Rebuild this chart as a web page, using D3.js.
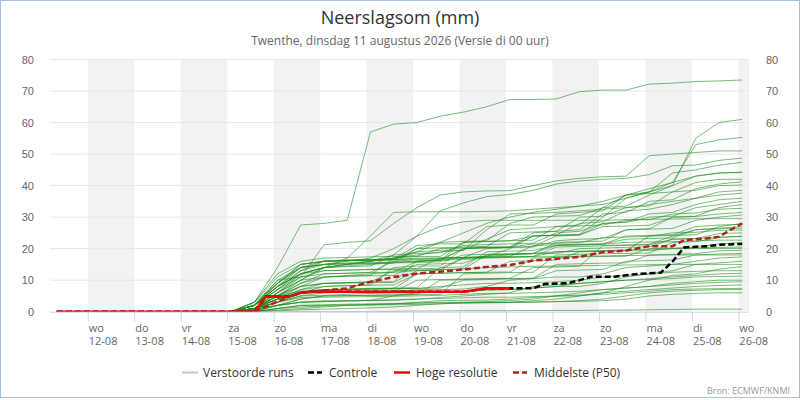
<!DOCTYPE html>
<html>
<head>
<meta charset="utf-8">
<script src="https://cdn.jsdelivr.net/npm/d3@7/dist/d3.min.js"></script>
<style>
  body { margin: 0; background: #fff; }
  svg { display: block; font-family: 'Open Sans', sans-serif; }
</style>
</head>
<body>
<svg id="chart" width="800" height="400"></svg>
<script>
// hours since 11-08 00:00
const runHours = [8, 98, 110, 122, 134, 146, 158, 170, 182, 194, 206, 218, 230, 242, 254, 266, 278, 290, 302, 314, 326, 338, 350, 362];

const perturbedRuns = [
  [0,0,3,14,27.5,28,29,57,59.5,60,62,63.3,65,67.3,67.3,67.5,69.8,70.3,70.3,72.2,72.5,73,73.2,73.5],
  [0,0,2,8,12,14,15,15.2,15.5,20,22,22.3,22.5,28,30,30.3,30.5,33,37,38,40,55,60,61],
  [0,0,2,10,11,21.2,22,22.5,28,33,37,38,38.3,38.4,40,41.5,42.3,42.8,43,49.5,50,50.5,51,51],
  [0,0,3,9,14,15,15.5,16,18,24,32,34.5,36.5,37.2,38.5,40.5,41.5,42,42.3,43.5,46.3,46.5,48,48.7],
  [0,0,1,6,12,14,15,16,17,19,22,25,28,30,31.5,32.5,33.5,35,37,39,41,53,54.5,55.3],
  [0,0,2,9,15,16,16.2,16.5,16.5,17,17,17.2,17.5,20,24,24.3,24.5,30,36,38,44,45,46.5,47.4],
  [0,0,2,7,13,16,16.2,16.5,16.5,19,19.5,19.5,23,26,26.5,27,27.5,33,33.5,37,40,43,44,44.3],
  [0,0,1,5,10,14,17,24,31.5,31.7,31.7,31.7,31.8,32,32.5,33,33.5,34,36,38,41,43,44,44.1],
  [0,0,2,8,14,16,16.5,16.5,16.8,21,21.5,21.5,27,27.5,27.5,31,31.5,32,37,37.5,38,41,42,42],
  [0,0,1,5,9,12,12.2,12.5,16,16.5,16.5,20,20.5,20.5,25,25.5,26,31,31.5,35,35.5,39,40.5,41.2],
  [0,0,3,11,15,16,16.2,16.3,16.5,20,20.3,20.5,20.7,25,25.3,25.5,30,30.3,33,33.5,38,38.5,40,40.2],
  [0,0,2,7,12,14,15,16,17,18,19,19.5,26,31,31.2,31.5,32,32.5,33,34,35,36,38,38.5],
  [0,0,1,4,8,11,11.3,11.5,17,17.5,17.5,22,22.3,22.5,24,24.3,28,28.5,32,32.5,34,36,37,37.6],
  [0,0,2,6,10,14,14.3,14.5,18,18.5,18.7,21,21.3,21.5,21.7,25,25.5,28,28.5,31,31.5,34,35.5,36],
  [0,0,1,3,6,8,8.3,8.5,14,14.5,14.5,20,20.3,20.5,20.7,24,24.3,28,28.3,30,30.3,33,34,35],
  [0,0,2,9,15,16,16.2,16.3,16.5,16.7,17,17.2,20,20.3,20.5,22.5,23,23.2,26,26.3,30,30.3,33,34],
  [0,0,1,5,8,9,9.2,9.5,9.5,16,16.3,22,22.3,22.5,22.7,27,27.2,27.5,29,29.2,31,31.3,32.5,32.8],
  [0,0,3,12,16,17,17.2,17.4,17.5,17.6,20,20.2,20.4,20.5,24,24.2,24.4,27,27.2,27.4,30,30.2,31,31.5],
  [0,0,1,4,7,9,9.2,9.4,13,13.2,13.4,13.5,18,18.2,18.4,22,22.2,22.4,26,26.2,26.4,29,30,30.7],
  [0,0,2,8,13,15,16,17,20,24,27,28.5,29,29,29,29,29,29,29.2,29.3,29.4,29.5,29.5,29.5],
  [0,0,1,4,6,7,7.1,7.2,7.3,12,12.2,12.4,12.5,16,16.2,16.4,19,19.2,19.4,24,24.2,24.4,27,28],
  [0,0,2,10,14,15,15.2,15.4,15.5,15.6,15.8,18,18.2,18.4,18.5,21,21.2,21.4,24,24.2,24.4,27,27.5,27.7],
  [0,0,1,6,11,13,13.2,13.4,13.5,13.6,17,17.2,17.4,17.5,21,21.2,21.4,21.5,23,23.2,23.4,26,26.5,27],
  [0,0,1,3,5,6,6.1,6.2,6.3,10,10.2,10.4,10.5,10.6,14,14.2,14.4,21,21.2,21.4,24,26,26.3,26.5],
  [0,0,2,7,11,12,12.2,12.4,12.5,16,16.2,20,20.2,20.4,21.5,21.7,21.9,23.5,23.7,23.9,25,25.2,25.8,25.9],
  [0,0,1,5,9,11,11.2,11.4,11.5,15,15.2,15.4,18,18.2,18.4,18.5,20,20.2,20.4,20.6,23,23.2,24.8,25],
  [0,0,1,2,4,5,5.1,5.2,5.3,5.4,5.5,12,12.2,12.4,12.5,18,18.2,18.4,18.5,18.6,22,22.2,23.5,24],
  [0,0,2,8,12,13,13.2,13.4,13.5,13.6,13.8,17,17.2,17.4,17.5,20.5,20.7,20.9,21,21.2,23,23.2,23.7,23.8],
  [0,0,1,3,6,7,7.2,7.4,7.5,7.6,14,14.2,19,19.2,19.4,21,21.2,21.4,22,22.1,22.2,22.5,22.7,22.7],
  [0,0,1,4,7,8,8.2,8.4,8.5,12,12.2,12.4,12.5,12.6,17,17.2,17.4,17.5,17.6,20,20.2,20.4,21.5,22],
  [0,0,1,5,8,9,9.1,9.2,9.3,13,13.2,17,17.2,17.4,17.5,19,19.1,19.2,19.3,19.4,20,20.2,20.4,20.5],
  [0,0,2,9,14,15,15.2,15.5,15.8,16,16.5,17,17.5,18,18.5,19,19.2,19.4,19.6,19.8,20,20,20.1,20.1],
  [0,0,0.5,2,4,5,5.1,5.2,5.3,5.4,10,10.2,10.4,10.5,10.6,15,15.2,15.4,15.5,18,18.2,18.4,19.3,19.5],
  [0,0,1,4,6,7,7.1,7.2,7.3,7.4,7.5,10,10.2,10.4,10.5,13,13.2,13.4,16,16.2,16.4,18,18.3,18.5],
  [0,0,2,8,12,14,14.5,15,15.5,16,16.3,16.6,17,17.2,17.4,17.5,17.6,17.7,17.8,17.9,18,18,18,18],
  [0,0,1,4,6,6,6.3,6.5,6.5,7,7,7.2,8,10,10.5,11,11,12,14,14.5,15,16,17,17.4],
  [0,0,0,2,3,3.5,3.5,3.6,5,6,6.2,6.5,7,7,7.5,8,8,9,11,12,13,15,15.5,16],
  [0,0,1,6,10,11,11.5,12,12.5,13,13.3,13.6,14,14.2,14.4,14.5,14.6,14.7,14.8,14.9,15,15,15,15],
  [0,0,0,1,2,2,2.2,2.3,2.4,3,3.5,3.6,3.7,4,4.5,5,5,6,8,10,11.5,12,13.5,14.3],
  [0,0,1,5,6.5,7,7,7.2,7.3,7.4,8,8.5,9,9,9.2,9.5,10,11,11.5,12,12.5,12.8,13,13],
  [0,0,0,2,3,3.2,3.4,3.5,3.6,4,4.5,5,5.5,6,8,8.5,9,9.5,10,10.5,11,11.5,12,12.2],
  [0,0,1,3,5,5.2,5.5,5.8,6,6,6.2,6.5,6.8,7,7.5,8,9,9.5,10,10.2,10.5,11,11.2,11.3],
  [0,0,0,1,1.5,1.8,2,2.2,2.5,2.8,3,3,3.2,3.5,4,5,6,7,7.5,8,9,9.5,10,10],
  [0,0,0.5,3,4.5,4.6,4.7,4.8,4.9,5,5.2,5.5,5.8,5.8,6,6.2,6.5,7,7.5,8,8.5,9,9.3,9.5],
  [0,0,0,1,2,2.2,2.4,2.5,2.6,2.7,2.8,2.9,2.9,3,3.5,4,5,6,6.5,7,7.5,8,8.3,8.5],
  [0,0,0.5,2,3,3.2,3.4,3.6,3.8,4,4.2,4.4,4.6,4.6,4.8,5,5.3,5.5,6,6.5,7,7.2,7.3,7.4],
  [0,0,0,0.5,1,1.5,2,2.1,2.2,2.3,2.5,2.7,2.8,2.9,3,3.2,3.5,4,5,6,6.5,6.8,7,7],
  [0,0,0,0.3,0.6,0.8,1,1.2,1.5,2,2.5,2.8,3,3,3.1,3.2,3.3,3.5,4,5,5.5,5.8,6,6],
  [0,0,0,0,0,0,0,0,0.1,0.2,0.2,0.3,0.3,0.3,0.4,0.4,0.4,0.5,0.5,0.6,0.7,0.8,0.8,0.8]
];

const controlHours = [8, 110, 116, 128, 134, 140, 218, 230, 242, 254, 260, 272, 278, 284, 296, 308, 320, 326, 332, 344, 350, 362];
const controlValues = [0, 0, 4.8, 4.8, 6, 6.3, 6.3, 7.4, 7.4, 7.4, 8.8, 9, 10, 11.1, 11.1, 12, 12.4, 15.9, 20.4, 20.8, 21.2, 21.5];

const hiresHours = [8, 110, 116, 128, 134, 140, 218, 230, 242];
const hiresValues = [0, 0, 4.8, 4.8, 6, 6.3, 6.3, 7.4, 7.4];

const medianHours = [8, 110, 120, 128, 134, 158, 164, 170, 182, 194, 206, 218, 230, 242, 254, 266, 278, 290, 302, 314, 326, 332, 344, 350, 356, 362];
const medianValues = [0, 0, 2.7, 4.8, 6, 7.4, 8.5, 9.5, 11, 12.1, 12.7, 13.4, 14.2, 14.8, 16.2, 16.8, 17.4, 18.9, 19.4, 20.8, 20.8, 22.7, 23.3, 23.8, 26, 28];

const dayNames = ['wo', 'do', 'vr', 'za', 'zo', 'ma', 'di', 'wo', 'do', 'vr', 'za', 'zo', 'ma', 'di', 'wo'];
const dayDates = ['12-08', '13-08', '14-08', '15-08', '16-08', '17-08', '18-08', '19-08', '20-08', '21-08', '22-08', '23-08', '24-08', '25-08', '26-08'];
const yTicks = [0, 10, 20, 30, 40, 50, 60, 70, 80];

const legendNames = ['Verstoorde runs', 'Controle', 'Hoge resolutie', 'Middelste (P50)'];

const plotLeft = 50, plotRight = 749, plotTop = 59.5, plotBottom = 311.7;

const svg = d3.select('#chart');

svg.append('rect')
    .attr('x', 0.5).attr('y', 0.5)
    .attr('width', 799).attr('height', 397)
    .attr('fill', '#fff')
    .attr('stroke', '#a7c1e6');

const x = d3.scaleLinear().domain([4.5, 365.5]).range([plotLeft, plotRight]);
const y = d3.scaleLinear().domain([0, 80]).range([plotBottom, plotTop]);

svg.append('clipPath').attr('id', 'plot-clip')
    .append('rect')
    .attr('x', plotLeft).attr('y', plotTop - 5)
    .attr('width', plotRight - plotLeft).attr('height', plotBottom - plotTop + 5);

// day ticks: every day starts at 24h * (i+1)
const dayHours = dayNames.map((d, i) => (i + 1) * 24);

// shaded days, every other day
const bands = svg.append('g').attr('clip-path', 'url(#plot-clip)');
bands.selectAll('rect')
    .data(dayHours.filter((d, i) => i % 2 === 0))
    .enter()
    .append('rect')
    .attr('x', d => x(d))
    .attr('y', plotTop)
    .attr('width', d => x(d + 24) - x(d))
    .attr('height', plotBottom - plotTop)
    .attr('fill', '#f2f2f2');

// horizontal grid
svg.append('g')
    .selectAll('line')
    .data(yTicks.filter(d => d > 0))
    .enter()
    .append('line')
    .attr('x1', plotLeft).attr('x2', plotRight)
    .attr('y1', d => y(d)).attr('y2', d => y(d))
    .attr('stroke', '#e6e6e6')
    .attr('stroke-width', 1);

const line = d3.line()
    .x(d => x(d[0]))
    .y(d => y(d[1]));

const plot = svg.append('g').attr('clip-path', 'url(#plot-clip)');

plot.append('g')
    .selectAll('path')
    .data(perturbedRuns)
    .enter()
    .append('path')
    .attr('d', run => line(run.map((v, i) => [runHours[i], v])))
    .attr('fill', 'none')
    .attr('stroke', '#1f8f1f')
    .attr('stroke-opacity', 0.6)
    .attr('stroke-width', 1);

plot.append('path')
    .attr('d', line(controlHours.map((h, i) => [h, controlValues[i]])))
    .attr('fill', 'none')
    .attr('stroke', '#000')
    .attr('stroke-width', 2.5)
    .attr('stroke-dasharray', '6,3');

plot.append('path')
    .attr('d', line(hiresHours.map((h, i) => [h, hiresValues[i]])))
    .attr('fill', 'none')
    .attr('stroke', '#ff0000')
    .attr('stroke-width', 2.5);

plot.append('path')
    .attr('d', line(medianHours.map((h, i) => [h, medianValues[i]])))
    .attr('fill', 'none')
    .attr('stroke', '#b22222')
    .attr('stroke-width', 2.5)
    .attr('stroke-dasharray', '6,3');

// x axis
const xAxis = d3.axisBottom(x).tickValues(dayHours).tickSize(10).tickFormat('');
const gx = svg.append('g').attr('transform', `translate(0, ${plotBottom})`).call(xAxis);
gx.select('.domain').attr('stroke', '#ccd6eb').attr('d', `M${plotLeft},0.5H${plotRight}`);
gx.selectAll('.tick line').attr('stroke', '#ccd6eb');

const dayLabels = svg.append('g')
    .style('font-size', '11px')
    .attr('fill', '#666');
dayLabels.selectAll('text.dn')
    .data(dayHours)
    .enter()
    .append('text')
    .attr('class', 'dn')
    .attr('x', d => x(d) + 1)
    .attr('y', 331.5)
    .text((d, i) => dayNames[i]);
dayLabels.selectAll('text.dd')
    .data(dayHours)
    .enter()
    .append('text')
    .attr('class', 'dd')
    .attr('x', d => x(d) + 1)
    .attr('y', 345)
    .text((d, i) => dayDates[i]);

// y axes
const yLeft = d3.axisLeft(y).tickValues(yTicks).tickSize(0).tickPadding(16);
const gyl = svg.append('g').attr('transform', `translate(${plotLeft}, 0)`).call(yLeft);
gyl.select('.domain').remove();

const yRight = d3.axisRight(y).tickValues(yTicks).tickSize(0).tickPadding(17);
const gyr = svg.append('g').attr('transform', `translate(${plotRight}, 0)`).call(yRight);
gyr.select('.domain').remove();

svg.selectAll('.tick text')
    .attr('font-family', null)
    .attr('font-size', null)
    .style('font-size', '11px')
    .attr('fill', '#666');

// titles
svg.append('text')
    .attr('x', 400).attr('y', 24)
    .attr('text-anchor', 'middle')
    .style('font-size', '18px')
    .attr('fill', '#333')
    .text('Neerslagsom (mm)');
svg.append('text')
    .attr('x', 400).attr('y', 45)
    .attr('text-anchor', 'middle')
    .style('font-size', '12px')
    .attr('fill', '#666')
    .text('Twenthe, dinsdag 11 augustus 2026 (Versie di 00 uur)');

// legend
const legendY = 372.5;
const legendSymbols = [
    { x1: 182, x2: 198, tx: 203, stroke: '#1f8f1f', op: 0.35, dash: null },
    { x1: 308, x2: 322, tx: 329, stroke: '#000', op: 1, dash: '6,3' },
    { x1: 394, x2: 410, tx: 416, stroke: '#ff0000', op: 1, dash: null },
    { x1: 513, x2: 527, tx: 534, stroke: '#b22222', op: 1, dash: '6,3' }
];
const legend = svg.append('g');
legendSymbols.forEach((s, i) => {
    legend.append('line')
        .attr('x1', s.x1).attr('x2', s.x2)
        .attr('y1', legendY).attr('y2', legendY)
        .attr('stroke', s.stroke)
        .attr('stroke-opacity', s.op)
        .attr('stroke-width', i === 0 ? 2 : 2.5)
        .attr('stroke-dasharray', s.dash);
    legend.append('text')
        .attr('x', s.tx).attr('y', legendY + 4.5)
        .style('font-size', '12px')
        .attr('fill', '#333')
        .text(legendNames[i]);
});

svg.append('text')
    .attr('x', 790).attr('y', 394)
    .attr('text-anchor', 'end')
    .style('font-size', '9px')
    .attr('fill', '#999')
    .text('Bron: ECMWF/KNMI');
</script>
</body>
</html>
